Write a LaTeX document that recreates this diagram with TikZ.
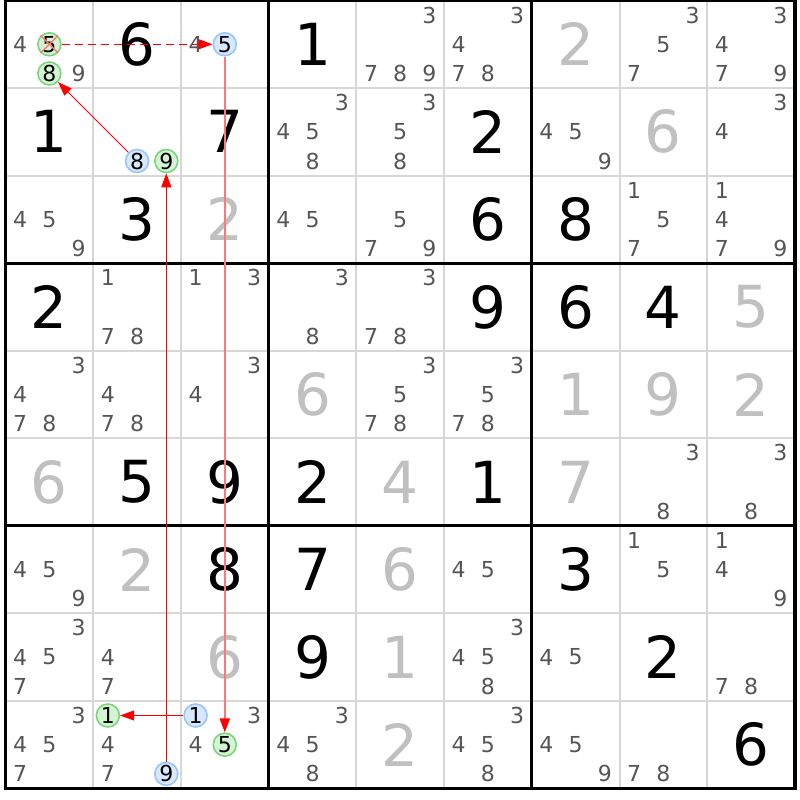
\documentclass[tikz,border=0pt]{standalone}
\usepackage{fontspec}
\setmainfont{DejaVu Sans}
\usetikzlibrary{arrows.meta}

\definecolor{thingray}{RGB}{215,215,215}
\definecolor{solvedgray}{RGB}{192,192,192}
\definecolor{candgray}{RGB}{85,85,85}
\definecolor{onstroke}{RGB}{125,212,125}
\definecolor{onfill}{RGB}{212,245,212}
\definecolor{offstroke}{RGB}{150,198,250}
\definecolor{offfill}{RGB}{215,232,255}
\definecolor{linkpale}{RGB}{255,120,120}

\newcommand{\givenfont}{\fontsize{58}{58}\selectfont}
\newcommand{\candfont}{\fontsize{22}{22}\selectfont}

\begin{document}
\begin{tikzpicture}[x=87.72pt,y=-87.55pt,
  >={Triangle[length=14pt,width=10pt]},
  given/.style={font=\givenfont,text=black,inner sep=0pt},
  solved/.style={font=\givenfont,text=solvedgray,inner sep=0pt},
  cand/.style={font=\candfont,text=candgray,inner sep=0pt},
  oncand/.style={font=\candfont,text=black,circle,draw=onstroke,fill=onfill,
    line width=1.6pt,minimum size=23pt,inner sep=0pt},
  offcand/.style={font=\candfont,text=black,circle,draw=offstroke,fill=offfill,
    line width=1.6pt,minimum size=23pt,inner sep=0pt},
  link/.style={->,red,line width=0.9pt}]
\useasboundingbox ([xshift=-5.5pt,yshift=0.5pt]0,0) rectangle ++(800pt,-800pt);

% thin lines
\foreach\i in {1,2,4,5,7,8}{
\draw[thingray,line width=2pt] (\i,0)--(\i,9);
\draw[thingray,line width=2pt] (0,\i)--(9,\i);
}
% block lines
\foreach\i in {3,6}{
\draw[line width=3pt] (\i,0)--(\i,9);
\draw[line width=3pt] (0,\i)--(9,\i);
}
\draw[line width=3.5pt] (0,0) rectangle (9,9);

% givens
\foreach\c/\r/\v in {1/0/6,3/0/1,0/1/1,2/1/7,5/1/2,1/2/3,5/2/6,6/2/8,
  0/3/2,5/3/9,6/3/6,7/3/4,1/5/5,2/5/9,3/5/2,5/5/1,
  2/6/8,3/6/7,6/6/3,3/7/9,7/7/2,8/8/6}
\node[given] (g\c\r) at (\c+0.5,\r+0.5) {\v};

% solved
\foreach\c/\r/\v in {6/0/2,7/1/6,2/2/2,8/3/5,3/4/6,6/4/1,7/4/9,8/4/2,
  0/5/6,4/5/4,6/5/7,1/6/2,4/6/6,2/7/6,4/7/1,4/8/2}
\node[solved] (s\c\r) at (\c+0.5,\r+0.5) {\v};

% candidates
\foreach\c/\r/\ds in {0/0/{4,9},2/0/{4},4/0/{3,7,8,9},5/0/{3,4,7,8},
  7/0/{3,5,7},8/0/{3,4,7,9},
  3/1/{3,4,5,8},4/1/{3,5,8},6/1/{4,5,9},8/1/{3,4},
  0/2/{4,5,9},3/2/{4,5},4/2/{5,7,9},7/2/{1,5,7},8/2/{1,4,7,9},
  1/3/{1,7,8},2/3/{1,3},3/3/{3,8},4/3/{3,7,8},
  0/4/{3,4,7,8},1/4/{4,7,8},2/4/{3,4},4/4/{3,5,7,8},5/4/{3,5,7,8},
  7/5/{3,8},8/5/{3,8},
  0/6/{4,5,9},5/6/{4,5},7/6/{1,5},8/6/{1,4,9},
  0/7/{3,4,5,7},1/7/{4,7},5/7/{3,4,5,8},6/7/{4,5},8/7/{7,8},
  0/8/{3,4,5,7},1/8/{4,7},2/8/{3,4},3/8/{3,4,5,8},5/8/{3,4,5,8},
  6/8/{4,5,9},7/8/{7,8}}
{
\foreach\d in \ds{
\pgfmathsetmacro\px{\c+(mod(\d-1,3)+0.5)/3}
\pgfmathsetmacro\py{\r+(floor((\d-1)/3)+0.5)/3}
\node[cand] (k\c\r\d) at (\px,\py) {\d};
}
}

% chain
\node[oncand] (a5) at (0.5,0.5) {5};
\node[oncand] (a8) at (0.5,0.8333) {8};
\node[offcand] (b5) at (2.5,0.5) {5};
\node[offcand] (c8) at (1.5,1.8333) {8};
\node[oncand] (c9) at (1.8333,1.8333) {9};
\node[oncand] (d1) at (1.1667,8.1667) {1};
\node[offcand] (d9) at (1.8333,8.8333) {9};
\node[offcand] (e1) at (2.1667,8.1667) {1};
\node[oncand] (e5) at (2.5,8.5) {5};
\draw[linkpale,line width=1.4pt] (a5.north west)--(a5.south east);
\draw[linkpale,line width=1.4pt] (a5.north east)--(a5.south west);

\draw[link,line width=1.2pt,dash pattern=on 8pt off 5pt] (a5)--(b5);
\draw[->,draw=linkpale,line width=1.8pt,-{Triangle[length=14pt,width=10pt,color=red]}] (b5)--(e5);
\draw[link] (e1)--(d1);
\draw[link] (d9)--(c9);
\draw[link] (c8)--(a8);
\end{tikzpicture}
\end{document}
